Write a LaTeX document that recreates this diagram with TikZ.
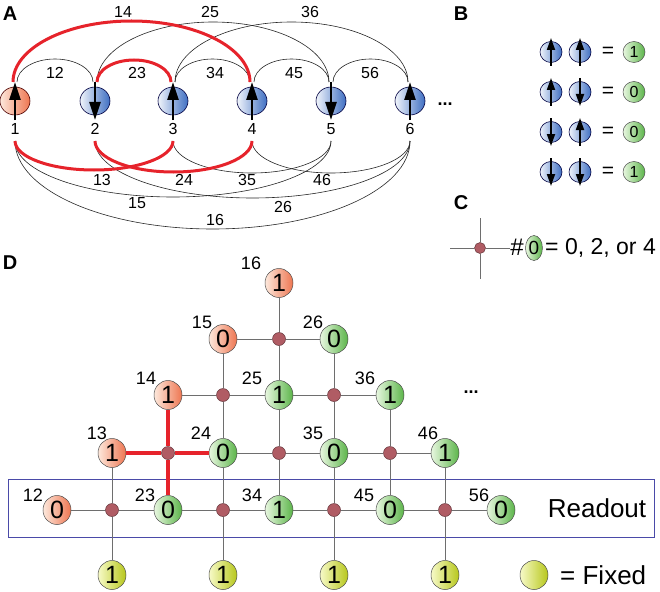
\documentclass[tikz,border=0pt]{standalone}
\usepackage{fontspec}
\setmainfont{Liberation Sans}
\usetikzlibrary{arrows.meta,shapes.geometric,calc}
\definecolor{myred}{HTML}{E6232B}
\definecolor{spinblue}{HTML}{3F6FC2}
\definecolor{spinblueL}{HTML}{F0F4FB}
\definecolor{spinorg}{HTML}{EE7651}
\definecolor{spinorgL}{HTML}{FDE8DC}
\definecolor{grn}{HTML}{5CB54A}
\definecolor{grnL}{HTML}{E8F7E0}
\definecolor{fixc}{HTML}{B7C71B}
\definecolor{fixL}{HTML}{F7FAC8}
\definecolor{dotc}{HTML}{B05C64}
\definecolor{boxc}{HTML}{4A4AA8}
\definecolor{gridc}{HTML}{6E6E6E}
\newcommand\fs[1]{\fontsize{#1}{#1}\selectfont}
\newcommand\ellarc[4][]{%
  \draw[#1] let \p1=(#2), \p2=(#3) in
   (#2) .. controls (\x1,{\y1+0.5523*(#4)}) and ({\x1+0.22385*(\x2-\x1)},{\y1+(#4)}) .. ({0.5*(\x1+\x2)},{\y1+(#4)})
   .. controls ({\x2-0.22385*(\x2-\x1)},{\y2+(#4)}) and (\x2,{\y2+0.5523*(#4)}) .. (#3);}
\begin{document}
\begin{tikzpicture}[x=1pt,y=-1pt,
  spinb/.style={ellipse, draw=black!75!blue, line width=0.6pt, left color=spinblueL, right color=spinblue, minimum width=30pt, minimum height=28pt, inner sep=0pt},
  spino/.style={spinb, left color=spinorgL, right color=spinorg, draw=black!70!red},
  sspin/.style={spinb, minimum width=22pt, minimum height=21pt},
  arrA/.style={line width=2.4pt, -{Triangle[length=18pt,width=11pt]}},
  arrB/.style={line width=1.8pt, -{Triangle[length=12pt,width=8pt]}},
  thinarc/.style={line width=0.6pt, black!85},
  reda/.style={line width=3pt, myred},
  labA/.style={font=\fs{16}, inner sep=0pt},
  panel/.style={font=\fs{20}\bfseries, inner sep=0pt},
  onode/.style={ellipse, draw=black!70, line width=0.5pt, left color=spinorgL, right color=spinorg, minimum width=28pt, minimum height=29pt, inner sep=0pt, font=\fs{25}},
  gnode/.style={onode, left color=grnL, right color=grn},
  fnode/.style={onode, left color=fixL, right color=fixc},
  dot/.style={circle, fill=dotc, draw=dotc!55!black, line width=0.5pt, minimum size=13pt, inner sep=0pt},
  gridl/.style={gridc, line width=0.8pt},
  redl/.style={myred, line width=3.5pt},
  dlab/.style={font=\fs{18}, inner sep=0pt},
  bigtxt/.style={font=\fs{26}, inner sep=0pt}
]
\useasboundingbox (0,0) rectangle (660,591);

% ---------------- Panel A ----------------
\node[panel] (lA) at (10,14) {A};
\foreach \i/\x in {1/15,2/95,3/173,4/252,5/331,6/410}{
  \coordinate (tl\i) at (\x-2,82);
  \coordinate (tr\i) at (\x+2,82);
  \coordinate (b\i) at (\x,141);
  \node[labA] (sl\i) at (\x,129) {\i};
}
\ellarc[thinarc]{tr1}{tl2}{23pt}
\ellarc[thinarc]{tr3}{tl4}{23pt}
\ellarc[thinarc]{tr4}{tl5}{23pt}
\ellarc[thinarc]{tr5}{tl6}{23pt}
\ellarc[thinarc]{tr2}{tl5}{60pt}
\ellarc[thinarc]{tr3}{tl6}{60pt}
\ellarc[thinarc]{b3}{b5}{-32pt}
\ellarc[thinarc]{b4}{b6}{-32pt}
\ellarc[thinarc]{b1}{b5}{-56pt}
\ellarc[thinarc]{b2}{b6}{-57pt}
\ellarc[thinarc]{b1}{b6}{-88pt}
\ellarc[reda]{tr2}{tl3}{22pt}
\ellarc[reda]{tl1}{tl4}{61pt}
\ellarc[reda]{b1}{b3}{-29pt}
\ellarc[reda]{b2}{b4}{-31pt}

\node[spino] (s1) at (15,101) {};
\node[spinb] (s2) at (95,101) {};
\node[spinb] (s3) at (173,101) {};
\node[spinb] (s4) at (252,101) {};
\node[spinb] (s5) at (331,101) {};
\node[spinb] (s6) at (410,101) {};
\foreach \s/\a in {1/1,2/-1,3/1,4/1,5/-1,6/1}{
  \draw[arrA] ([yshift={(-1)*(\a)*19pt}]s\s.center) -- ([yshift={(\a)*19pt}]s\s.center);
}
\node[labA] (a12) at (55,73) {12};
\node[labA] (a23) at (137,73) {23};
\node[labA] (a34) at (215,73) {34};
\node[labA] (a45) at (294,73) {45};
\node[labA] (a56) at (370,73) {56};
\node[labA] (a14) at (123,12) {14};
\node[labA] (a25) at (210,12) {25};
\node[labA] (a36) at (310,12) {36};
\node[labA] (a13) at (102,180) {13};
\node[labA] (a24) at (184,180) {24};
\node[labA] (a35) at (247,180) {35};
\node[labA] (a46) at (322,180) {46};
\node[labA] (a15) at (137,203) {15};
\node[labA] (a26) at (283,207) {26};
\node[labA] (a16) at (215,220) {16};
\node[font=\fs{18}\bfseries, inner sep=0pt] (adots) at (445,104) {...};

% ---------------- Panel B ----------------
\node[panel] (lB) at (461,14) {B};
\foreach \r/\y/\a/\b/\v in {1/52/1/1/1, 2/92/1/-1/0, 3/132/-1/1/0, 4/172/-1/-1/1}{
  \node[sspin] (bl\r) at (551,\y) {};
  \node[sspin] (br\r) at (580,\y) {};
  \draw[arrB] ([yshift={(-1)*(\a)*14pt}]bl\r.center) -- ([yshift={(\a)*14pt}]bl\r.center);
  \draw[arrB] ([yshift={(-1)*(\b)*14pt}]br\r.center) -- ([yshift={(\b)*14pt}]br\r.center);
  \node[font=\fs{21}, inner sep=0pt] (beq\r) at (608,\y) {=};
  \node[gnode, minimum width=22pt, minimum height=21pt, font=\fs{16}] (bv\r) at (634,\y) {\v};
}

% ---------------- Panel C ----------------
\node[panel] (lC) at (461,203) {C};
\node[dot, minimum size=11pt] (cd) at (480,248) {};
\coordinate (cw) at (450,248);
\coordinate (ce) at (510,248);
\coordinate (cn) at (480,218);
\coordinate (cs) at (480,279);
\draw[gridl] (cw) -- (cd) -- (ce);
\draw[gridl] (cn) -- (cd) -- (cs);
\node[font=\fs{24}, inner sep=0pt] (chash) at (517,247) {\char"23};
\node[gnode, minimum width=17pt, minimum height=25pt, font=\fs{19}] (c0) at (534,248) {0};
\node[font=\fs{23}, anchor=west, inner sep=0pt] (ceq) at (545,248) {= 0, 2, or 4};

% ---------------- Panel D ----------------
\node[panel] (lD) at (10,263) {D};
\node[draw=boxc, line width=0.9pt, minimum width=646pt, minimum height=58pt, inner sep=0pt] (rbox) at (331,508) {};
\node[bigtxt] (rtxt) at (597,508) {Readout};

\foreach \n/\x/\y/\t/\v in {12/57/510/onode/0, 23/168/510/gnode/0, 34/279/510/gnode/1, 45/390/510/gnode/0, 56/501/510/gnode/0,
  13/112/453/onode/1, 24/223/453/gnode/0, 35/334/453/gnode/0, 46/445/453/gnode/1,
  14/168/395/onode/1, 25/279/395/gnode/1, 36/390/395/gnode/1,
  15/223/339/onode/0, 26/334/339/gnode/0, 16/279/283/onode/1}{
  \node[\t] (n\n) at (\x,\y) {\v};
}
\foreach \n/\x/\y in {12/33/495, 23/145/495, 34/252/495, 45/364/495, 56/479/495,
  13/97/433, 24/201/433, 35/313/433, 46/428/433,
  14/146/378, 25/252/378, 36/365/378, 15/202/322, 26/313/322, 16/251/263}{
  \node[dlab] (ln\n) at (\x,\y) {\n};
}
\foreach \i/\x in {1/112,2/223,3/334,4/445}{
  \node[fnode] (f\i) at (\x,575) {1};
}
\foreach \i/\x/\y in {1/112/510, 2/223/510, 3/334/510, 4/445/510, 5/168/453, 6/279/453, 7/390/453, 8/223/395, 9/334/395, 10/279/339}{
  \node[dot] (d\i) at (\x,\y) {};
}
\draw[gridl] (n12) -- (d1) -- (n23) -- (d2) -- (n34) -- (d3) -- (n45) -- (d4) -- (n56);
\draw[gridl] (n24) -- (d6) -- (n35) -- (d7) -- (n46);
\draw[gridl] (n14) -- (d8) -- (n25) -- (d9) -- (n36);
\draw[gridl] (n15) -- (d10) -- (n26);
\draw[gridl] (n16) -- (d10) -- (n25) -- (d6) -- (n34);
\draw[gridl] (n15) -- (d8) -- (n24) -- (d2) -- (f2);
\draw[gridl] (n26) -- (d9) -- (n35) -- (d3) -- (f3);
\draw[gridl] (n13) -- (d1) -- (f1);
\draw[gridl] (n36) -- (d7) -- (n45);
\draw[gridl] (n46) -- (d4) -- (f4);
\draw[redl] (n13) -- (d5) -- (n24);
\draw[redl] (n14) -- (d5) -- (n23);

\node[font=\fs{18}\bfseries, inner sep=0pt] (ddots) at (471,392) {...};
\node[fnode] (fleg) at (534,575) {};
\node[bigtxt, anchor=west] (ftxt) at (560,575) {= Fixed};
\end{tikzpicture}
\end{document}
